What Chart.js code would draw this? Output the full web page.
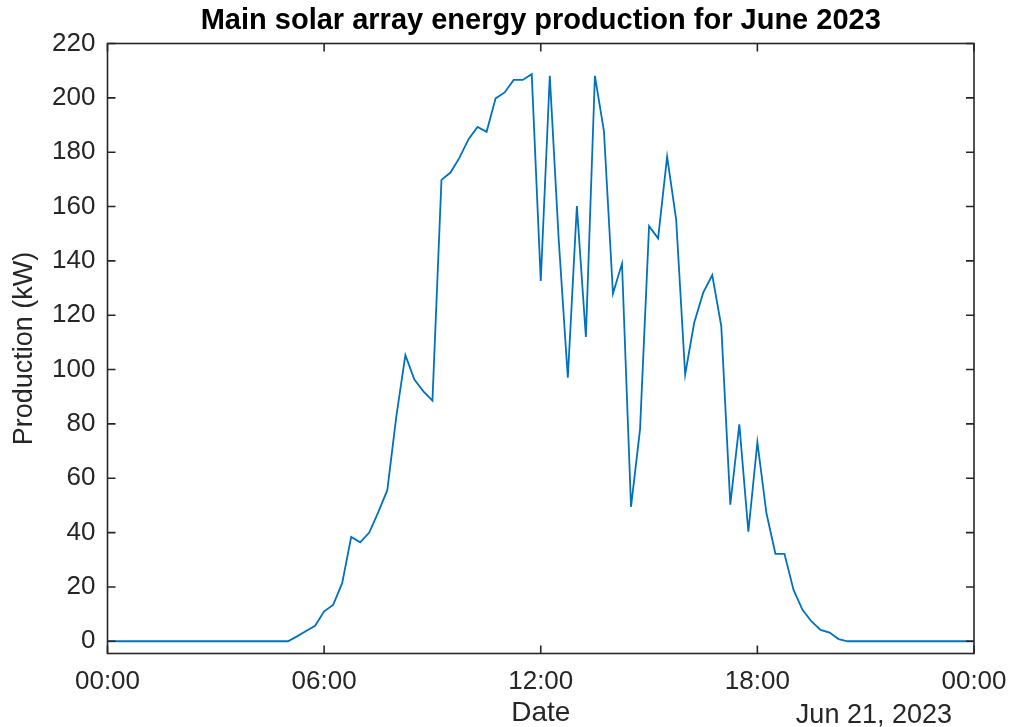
<!DOCTYPE html>
<html>
<head>
<meta charset="utf-8">
<script src="https://cdn.jsdelivr.net/npm/chart.js@4.4.1/dist/chart.umd.min.js"></script>
<style>
  html, body { margin: 0; padding: 0; background: #ffffff; }
  #wrap { width: 1009px; height: 727px; }
</style>
</head>
<body>
<div id="wrap"><canvas id="chart" width="1009" height="727"></canvas></div>
<script>
// Main solar array output, sampled every 15 minutes on 21 June 2023 (kW)
const chartTitle = 'Main solar array energy production for June 2023';
const xAxisTitle = 'Date';
const yAxisTitle = 'Production (kW)';
const dayLabel = 'Jun 21, 2023';
const sampleMinutes = 15;

const production = [
  0, 0, 0, 0, 0, 0, 0, 0, 0, 0, 0, 0, 0, 0, 0, 0, 0, 0, 0, 0,   // 00:00 - 04:45
  0, 1.8, 3.8, 5.7,                                              // 05:00 - 05:45
  11, 13.4, 21.4, 38.4,                                          // 06:00 - 06:45
  36.4, 40, 47.5, 55.6,                                          // 07:00 - 07:45
  82.8, 105.3, 96.3, 92,                                         // 08:00 - 08:45
  88.6, 169.8, 172.5, 178,                                       // 09:00 - 09:45
  184.8, 189.3, 187.5, 199.8,                                    // 10:00 - 10:45
  202, 206.6, 206.6, 208.7,                                      // 11:00 - 11:45
  132.6, 208.1, 147.3, 97,                                       // 12:00 - 12:45
  160.2, 112, 208.1, 187.8,                                      // 13:00 - 13:45
  128, 139, 49.5, 78,                                            // 14:00 - 14:45
  152.8, 148.3, 178.4, 155.3,                                    // 15:00 - 15:45
  98.2, 117.2, 128.3, 134.8,                                     // 16:00 - 16:45
  116, 50.3, 79.8, 40.3,                                         // 17:00 - 17:45
  73.3, 47.2, 32.2, 32.2,                                        // 18:00 - 18:45
  19, 11.6, 7.3, 4.2,                                            // 19:00 - 19:45
  3.2, 0.8, 0, 0,                                                // 20:00 - 20:45
  0, 0, 0, 0, 0, 0, 0, 0, 0, 0, 0, 0,                            // 21:00 - 23:45
  0                                                              // 24:00
];

const xTickMinutes = [0, 360, 720, 1080, 1440];
const xTickLabels = ['00:00', '06:00', '12:00', '18:00', '00:00'];
const yTickValues = [0, 20, 40, 60, 80, 100, 120, 140, 160, 180, 200, 220];
const yRange = [-4.5, 220];

const textColor = '#262626';
const fontFamily = '"Liberation Sans", Arial, Helvetica, sans-serif';

// Axes box with inward tick marks on all four sides, plus title and day label
const axesFrame = {
  id: 'axesFrame',
  afterDatasetsDraw(chart) {
    const { ctx, chartArea: a, scales: { x, y } } = chart;
    const tick = 8;
    ctx.save();
    ctx.strokeStyle = textColor;
    ctx.lineWidth = 1.6;
    ctx.strokeRect(a.left, a.top, a.right - a.left, a.bottom - a.top);
    ctx.beginPath();
    xTickMinutes.forEach(m => {
      const px = x.getPixelForValue(m);
      ctx.moveTo(px, a.bottom); ctx.lineTo(px, a.bottom - tick);
      ctx.moveTo(px, a.top);    ctx.lineTo(px, a.top + tick);
    });
    yTickValues.forEach(v => {
      const py = y.getPixelForValue(v);
      ctx.moveTo(a.left, py);  ctx.lineTo(a.left + tick, py);
      ctx.moveTo(a.right, py); ctx.lineTo(a.right - tick, py);
    });
    ctx.stroke();

    ctx.fillStyle = '#000000';
    ctx.font = 'bold 29px ' + fontFamily;
    ctx.textAlign = 'center';
    ctx.textBaseline = 'alphabetic';
    ctx.fillText(chartTitle, (a.left + a.right) / 2, 29);

    ctx.fillStyle = textColor;
    ctx.font = '27px ' + fontFamily;
    ctx.textAlign = 'right';
    ctx.fillText(dayLabel, 952, 723);
    ctx.restore();
  }
};

new Chart(document.getElementById('chart'), {
  type: 'line',
  data: {
    datasets: [{
      data: production.map((v, i) => ({ x: i * sampleMinutes, y: v })),
      borderColor: '#0072BD',
      borderWidth: 1.8,
      pointRadius: 0,
      tension: 0,
      fill: false
    }]
  },
  options: {
    responsive: false,
    animation: false,
    devicePixelRatio: 1,
    layout: { padding: { top: 43.5, right: 35, bottom: 0, left: 0 } },
    plugins: {
      legend: { display: false },
      title: { display: false },
      tooltip: { enabled: false }
    },
    scales: {
      x: {
        type: 'linear',
        min: 0,
        max: 1440,
        afterBuildTicks: s => { s.ticks = xTickMinutes.map(v => ({ value: v })); },
        afterFit: s => { s.height = 73.5; s.paddingLeft = 0; s.paddingRight = 0; },
        grid: { display: false, drawTicks: false },
        border: { display: false },
        ticks: {
          autoSkip: false,
          maxRotation: 0,
          padding: 13,
          color: textColor,
          font: { family: fontFamily, size: 26 },
          callback: (v, i) => xTickLabels[i]
        },
        title: {
          display: true,
          text: xAxisTitle,
          color: textColor,
          font: { family: fontFamily, size: 28, lineHeight: 1 },
          padding: { top: 0, bottom: 0 }
        }
      },
      y: {
        type: 'linear',
        min: yRange[0],
        max: yRange[1],
        afterBuildTicks: s => { s.ticks = yTickValues.map(v => ({ value: v })); },
        afterFit: s => { s.width = 107.5; },
        grid: { display: false, drawTicks: false },
        border: { display: false },
        ticks: {
          padding: 12,
          color: textColor,
          font: { family: fontFamily, size: 26 }
        },
        title: {
          display: true,
          text: yAxisTitle,
          color: textColor,
          font: { family: fontFamily, size: 27, lineHeight: 1.2 },
          padding: { top: 8, bottom: 0 }
        }
      }
    }
  },
  plugins: [axesFrame]
});
</script>
</body>
</html>
